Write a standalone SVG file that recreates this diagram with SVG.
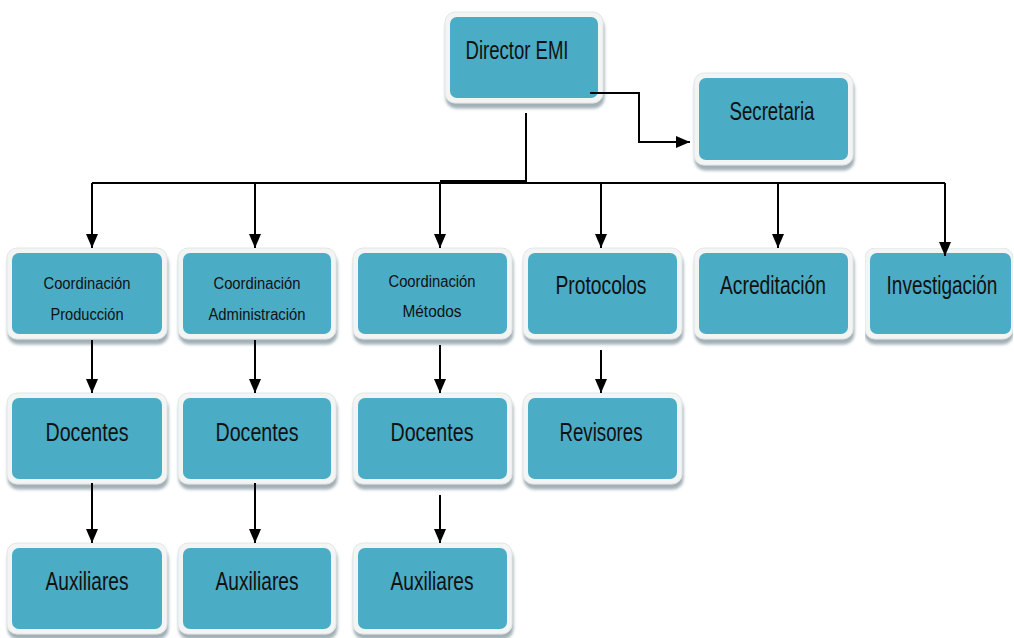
<svg xmlns="http://www.w3.org/2000/svg" width="1014" height="638" viewBox="0 0 1014 638">
<style>
.frame{fill:#f3f4f4;stroke:#e2e5e6;stroke-width:1;filter:url(#sh)}
.box{fill:#4BACC6}
.t{font-family:"Liberation Sans",Arial,sans-serif;font-size:25px;fill:#111;text-anchor:middle}
.s{font-family:"Liberation Sans",Arial,sans-serif;font-size:16px;fill:#111;text-anchor:middle}
.c{fill:none;stroke:#000;stroke-width:2}
</style>
<defs>
<filter id="sh" x="-10%" y="-10%" width="125%" height="130%">
<feDropShadow dx="1" dy="5" stdDeviation="1.5" flood-color="#8a9ca4" flood-opacity="0.8"/>
</filter>
<filter id="sh2" x="0" y="0" width="1" height="1.2">
<feDropShadow dx="0" dy="5" stdDeviation="1.5" flood-color="#8a9ca4" flood-opacity="0.8"/>
</filter>
<marker id="ah" markerUnits="userSpaceOnUse" markerWidth="14" markerHeight="12" refX="14" refY="6" orient="auto">
<path d="M0,0 L14,6 L0,12 z" fill="#000"/>
</marker>
</defs>

<g id="director">
<rect class="frame" x="445" y="12" width="158" height="91" rx="10"/>
<rect class="box" x="450" y="17" width="148" height="81" rx="7"/>
<text class="t" x="517" y="59" textLength="103" lengthAdjust="spacingAndGlyphs">Director EMI</text>
</g>
<g id="secretaria">
<rect class="frame" x="694" y="73" width="159" height="92" rx="10"/>
<rect class="box" x="699" y="78" width="149" height="82" rx="7"/>
<text class="t" x="772" y="120" textLength="85" lengthAdjust="spacingAndGlyphs">Secretaria</text>
</g>

<g id="coord-produccion">
<rect class="frame" x="7" y="248" width="160" height="91" rx="10"/>
<rect class="box" x="12" y="253" width="150" height="81" rx="7"/>
<text class="s" x="87" y="289" textLength="87" lengthAdjust="spacingAndGlyphs">Coordinación</text>
<text class="s" x="87" y="320" textLength="73" lengthAdjust="spacingAndGlyphs">Producción</text>
</g>
<g id="coord-administracion">
<rect class="frame" x="178" y="248" width="158" height="91" rx="10"/>
<rect class="box" x="183" y="253" width="148" height="81" rx="7"/>
<text class="s" x="257" y="289" textLength="87" lengthAdjust="spacingAndGlyphs">Coordinación</text>
<text class="s" x="257" y="320" textLength="97" lengthAdjust="spacingAndGlyphs">Administración</text>
</g>
<g id="coord-metodos">
<rect class="frame" x="353" y="248" width="159" height="91" rx="10"/>
<rect class="box" x="358" y="253" width="149" height="81" rx="7"/>
<text class="s" x="432" y="287" textLength="87" lengthAdjust="spacingAndGlyphs">Coordinación</text>
<text class="s" x="432" y="317" textLength="59" lengthAdjust="spacingAndGlyphs">Métodos</text>
</g>
<g id="protocolos">
<rect class="frame" x="523" y="248" width="159" height="91" rx="10"/>
<rect class="box" x="528" y="253" width="149" height="81" rx="7"/>
<text class="t" x="601" y="294" textLength="91" lengthAdjust="spacingAndGlyphs">Protocolos</text>
</g>
<g id="acreditacion">
<rect class="frame" x="694" y="248" width="159" height="91" rx="10"/>
<rect class="box" x="699" y="253" width="149" height="81" rx="7"/>
<text class="t" x="773" y="294" textLength="106" lengthAdjust="spacingAndGlyphs">Acreditación</text>
</g>
<g id="investigacion">
<rect x="865" y="248" width="148" height="91" rx="10" fill="#f3f4f4" stroke="#e2e5e6" filter="url(#sh2)"/>
<rect class="box" x="870" y="253" width="141" height="81" rx="7"/>
<text class="t" x="0" y="0" transform="translate(942,294) scale(0.76,1)">Investigación</text>
</g>

<g id="docentes-1">
<rect class="frame" x="7" y="393" width="160" height="91" rx="10"/>
<rect class="box" x="12" y="398" width="150" height="81" rx="7"/>
<text class="t" x="87" y="441" textLength="83" lengthAdjust="spacingAndGlyphs">Docentes</text>
</g>
<g id="docentes-2">
<rect class="frame" x="178" y="393" width="158" height="91" rx="10"/>
<rect class="box" x="183" y="398" width="148" height="81" rx="7"/>
<text class="t" x="257" y="441" textLength="83" lengthAdjust="spacingAndGlyphs">Docentes</text>
</g>
<g id="docentes-3">
<rect class="frame" x="353" y="393" width="159" height="91" rx="10"/>
<rect class="box" x="358" y="398" width="149" height="81" rx="7"/>
<text class="t" x="432" y="441" textLength="83" lengthAdjust="spacingAndGlyphs">Docentes</text>
</g>
<g id="revisores">
<rect class="frame" x="523" y="393" width="159" height="91" rx="10"/>
<rect class="box" x="528" y="398" width="149" height="81" rx="7"/>
<text class="t" x="601" y="441" textLength="83" lengthAdjust="spacingAndGlyphs">Revisores</text>
</g>

<g id="auxiliares-1">
<rect class="frame" x="7" y="543" width="160" height="91" rx="10"/>
<rect class="box" x="12" y="548" width="150" height="81" rx="7"/>
<text class="t" x="87" y="590" textLength="83" lengthAdjust="spacingAndGlyphs">Auxiliares</text>
</g>
<g id="auxiliares-2">
<rect class="frame" x="178" y="543" width="158" height="91" rx="10"/>
<rect class="box" x="183" y="548" width="148" height="81" rx="7"/>
<text class="t" x="257" y="590" textLength="83" lengthAdjust="spacingAndGlyphs">Auxiliares</text>
</g>
<g id="auxiliares-3">
<rect class="frame" x="353" y="543" width="159" height="91" rx="10"/>
<rect class="box" x="358" y="548" width="149" height="81" rx="7"/>
<text class="t" x="432" y="590" textLength="83" lengthAdjust="spacingAndGlyphs">Auxiliares</text>
</g>

<g id="connectors">
<path class="c" d="M590,93 H639 V142 H690" marker-end="url(#ah)"/>
<path class="c" d="M526,113 V181 H440"/>
<path class="c" d="M92,183 H945"/>
<path class="c" d="M92,183 V248" marker-end="url(#ah)"/>
<path class="c" d="M255,183 V248" marker-end="url(#ah)"/>
<path class="c" d="M440,183 V248" marker-end="url(#ah)"/>
<path class="c" d="M601,183 V248" marker-end="url(#ah)"/>
<path class="c" d="M778,183 V248" marker-end="url(#ah)"/>
<path class="c" d="M945,183 V256" marker-end="url(#ah)"/>
<path class="c" d="M92,340 V393" marker-end="url(#ah)"/>
<path class="c" d="M255,340 V393" marker-end="url(#ah)"/>
<path class="c" d="M440,345 V393" marker-end="url(#ah)"/>
<path class="c" d="M601,350 V393" marker-end="url(#ah)"/>
<path class="c" d="M92,483 V543" marker-end="url(#ah)"/>
<path class="c" d="M255,483 V543" marker-end="url(#ah)"/>
<path class="c" d="M440,495 V543" marker-end="url(#ah)"/>
</g>
</svg>
